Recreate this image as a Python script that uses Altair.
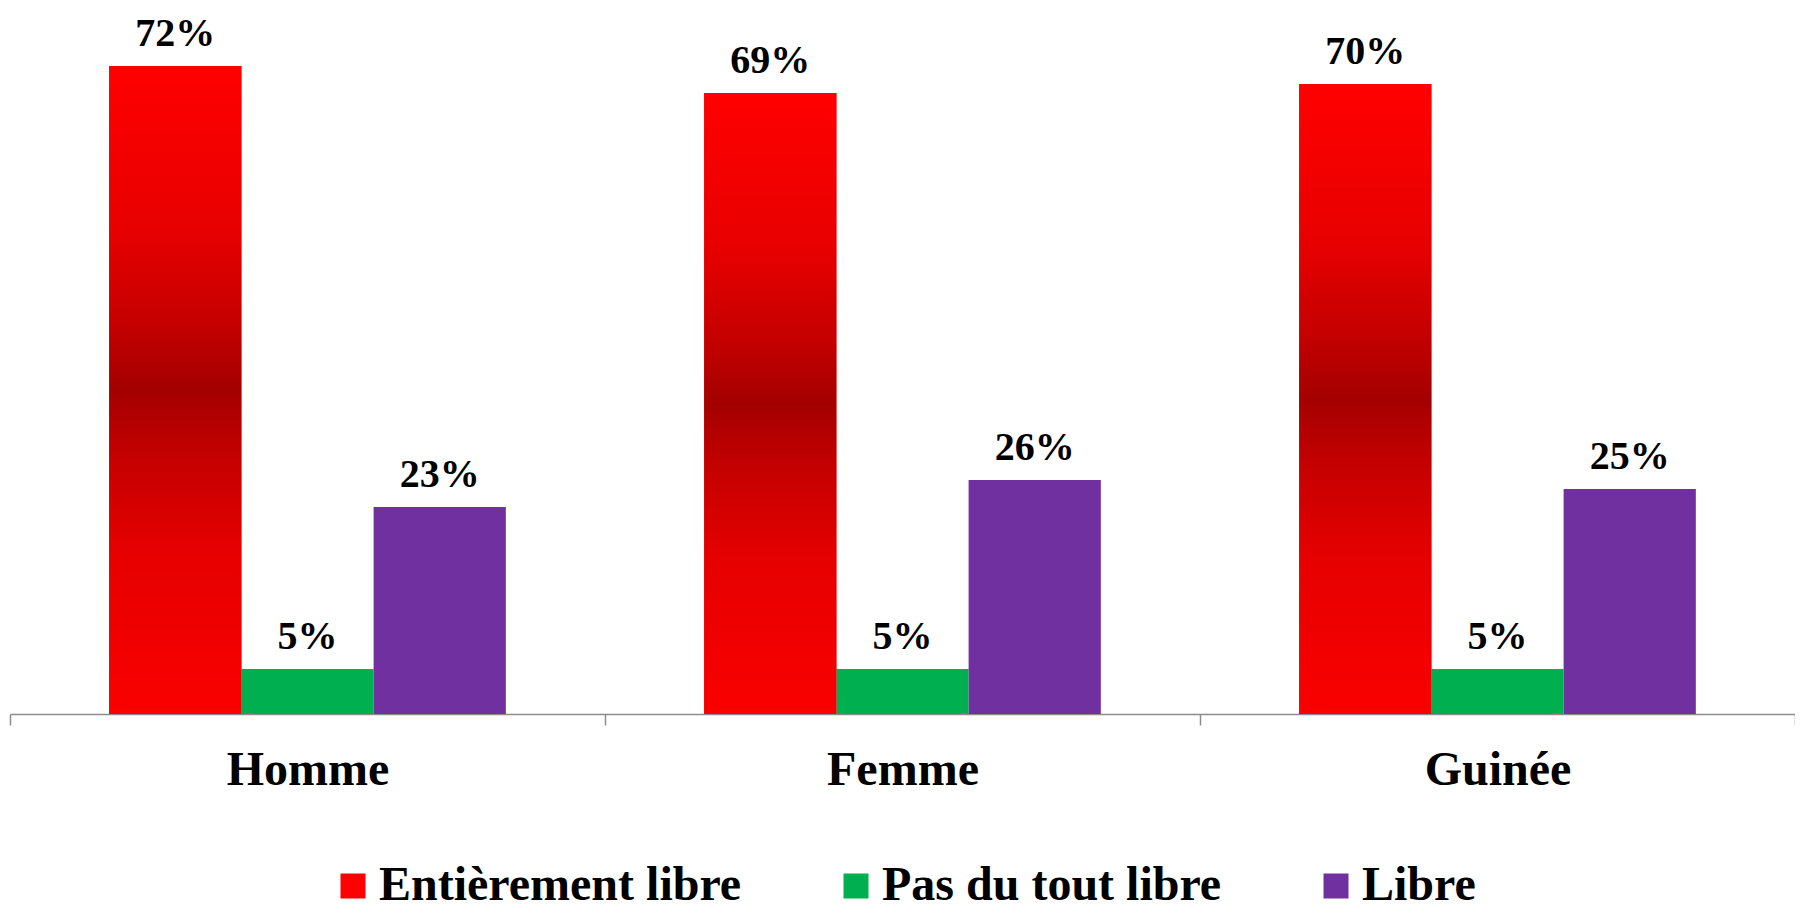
import altair as alt
import pandas as pd

categories = ["Homme", "Femme", "Guinée"]
series = ["Entièrement libre", "Pas du tout libre", "Libre"]
entierement = [72, 69, 70]
pas_du_tout = [5, 5, 5]
libre = [23, 26, 25]
colors = ["#FF0000", "#00B050", "#7030A0"]

rows = []
for i, c in enumerate(categories):
    for s, vals in zip(series, [entierement, pas_du_tout, libre]):
        rows.append({"categorie": c, "serie": s, "valeur": vals[i], "etiquette": f"{vals[i]}%"})
df = pd.DataFrame(rows)

FONT = "Liberation Serif"
AXIS_GRAY = "#8C8C8C"

x = alt.X(
    "categorie:N",
    sort=categories,
    scale=alt.Scale(paddingInner=0, paddingOuter=0),
    axis=alt.Axis(
        title=None, labelAngle=0, labelFont=FONT, labelFontSize=48,
        labelFontWeight="bold", labelColor="black", labelPadding=59,
        labelBaseline="alphabetic", tickBand="extent", tickSize=11,
        tickColor=AXIS_GRAY, domainColor=AXIS_GRAY, domainWidth=1.5,
        tickWidth=1.5, grid=False,
    ),
)
xo = alt.XOffset(
    "serie:N", sort=series,
    scale=alt.Scale(domain=series, paddingOuter=0.75, paddingInner=0),
)
y = alt.Y("valeur:Q", scale=alt.Scale(domain=[0, 78], nice=False, zero=True), axis=None)

base = alt.Chart(df).encode(x=x, xOffset=xo, y=y)

bars = base.mark_bar().encode(
    color=alt.Color(
        "serie:N", sort=series,
        scale=alt.Scale(domain=series, range=colors),
        legend=alt.Legend(
            title=None, orient="none", legendX=319, legendY=850,
            direction="horizontal", columns=3, symbolType="square",
            symbolSize=625, symbolStrokeWidth=0, labelFont=FONT,
            labelFontSize=48, labelFontWeight="bold", labelColor="black",
            labelOffset=2, columnPadding=90, padding=0, labelLimit=0,
        ),
    )
)

red_gradient = alt.LinearGradient(
    gradient="linear",
    stops=[
        alt.GradientStop(color="#FF0000", offset=0),
        alt.GradientStop(color="#E80000", offset=0.25),
        alt.GradientStop(color="#C40000", offset=0.4),
        alt.GradientStop(color="#A40000", offset=0.5),
        alt.GradientStop(color="#C40000", offset=0.6),
        alt.GradientStop(color="#E60000", offset=0.75),
        alt.GradientStop(color="#FA0000", offset=1),
    ],
    x1=0, x2=0, y1=0, y2=1,
)
grad = base.transform_filter(alt.datum.serie == series[0]).mark_bar(color=red_gradient)

text = base.mark_text(
    font=FONT, fontSize=40, fontWeight="bold", baseline="alphabetic",
    dy=-20, color="black",
).encode(text="etiquette:N")

chart = alt.layer(bars, grad, text).properties(
    width=1785, height=702,
    padding={"left": 2, "top": 4, "right": 0, "bottom": 200},
    autosize=alt.AutoSizeParams(type="none"),
    background="white",
).configure_view(stroke=None)

chart.save("out.html", embed_options={"renderer": "svg", "actions": False})
